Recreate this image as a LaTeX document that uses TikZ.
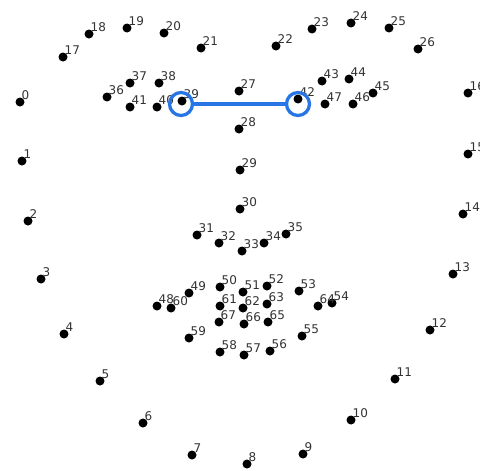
\documentclass[tikz,border=0pt]{standalone}
\usepackage{fontspec}
\setmainfont{DejaVu Sans}
\definecolor{labgray}{RGB}{50,50,50}
\definecolor{ringblue}{RGB}{40,118,228}
\begin{document}
\begin{tikzpicture}[x=1pt,y=-1pt,
  dot/.style={circle,fill=black,inner sep=0pt,minimum size=9pt},
  lab/.style={anchor=base west,inner sep=0pt,text=labgray,font=\fontsize{12}{13}\selectfont,xshift=1.5pt,yshift=2.8pt},
  ring/.style={draw=ringblue,line width=3.3pt,circle,inner sep=0pt,minimum size=23pt},
  link/.style={draw=ringblue,line width=3.2pt}]
\useasboundingbox (0,0) rectangle (480,471);
\clip (0,0) rectangle (480,471);
\foreach \i/\x/\y in {
 0/20/102, 1/22/161, 2/28/221, 3/41/279, 4/64/334, 5/100/381, 6/143/423,
 7/192/455, 8/247/464, 9/303/454, 10/351/420, 11/395/379, 12/430/330,
 13/453/274, 14/463/214, 15/468/154, 16/468/93, 17/63/57, 18/89/34,
 19/127/28, 20/164/33, 21/201/48, 22/276/46, 23/312/29, 24/351/23,
 25/389/28, 26/418/49, 27/239/91, 28/239/129, 29/240/170, 30/240/209,
 31/197/235, 32/219/243, 33/242/251, 34/264/243, 35/286/234, 36/107/97,
 37/130/83, 38/159/83, 39/182/101, 40/157/107, 41/130/107, 42/298/99,
 43/322/81, 44/349/79, 45/373/93, 46/353/104, 47/325/104, 48/157/306,
 49/189/293, 50/220/287, 51/243/292, 52/267/286, 53/299/291, 54/332/303,
 55/302/336, 56/270/351, 57/244/355, 58/220/352, 59/189/338, 60/171/308,
 61/220/306, 62/243/308, 63/267/304, 64/318/306, 65/268/322, 66/244/324,
 67/219/322}
{
  \node[dot] (p\i) at (\x,\y) {};
  \node[lab] (t\i) at (p\i.center) {\i};
}
\node[ring] (ca) at (181,104) {};
\node[ring] (cb) at (298,104) {};
\draw[link] (ca) -- (cb);
\end{tikzpicture}
\end{document}
